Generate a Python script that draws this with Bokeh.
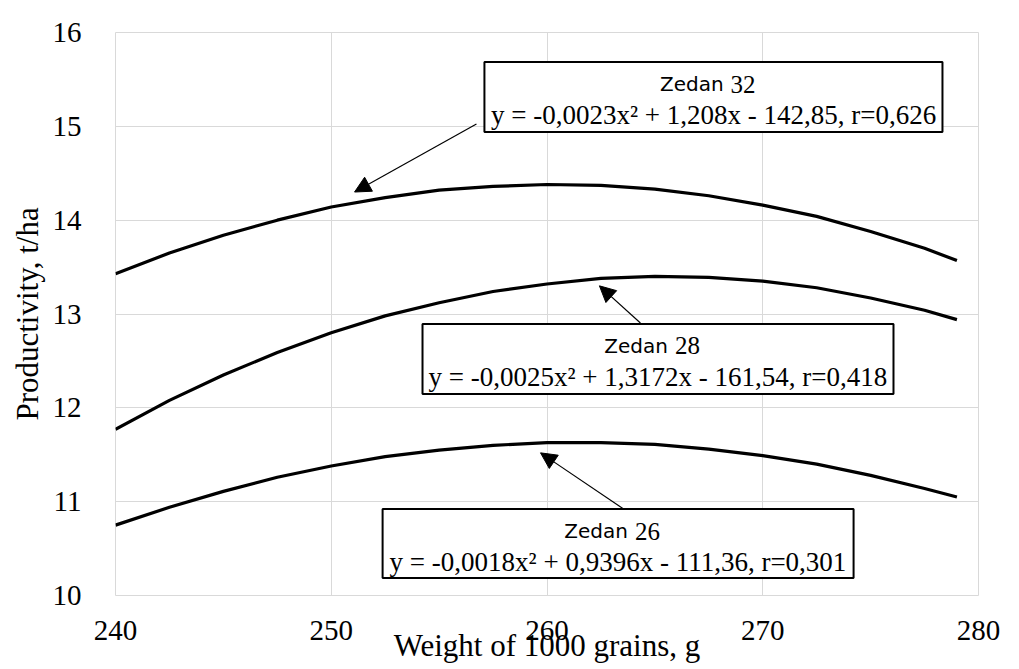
from bokeh.plotting import figure
from bokeh.models import Label, BoxAnnotation, Arrow, NormalHead, FixedTicker, Range1d
from bokeh.embed import file_html
from bokeh.resources import INLINE

# ---- data ----
weight = [240, 242.5, 245, 247.5, 250, 252.5, 255, 257.5, 260, 262.5,
          265, 267.5, 270, 272.5, 275, 277.5, 279]
zedan32 = [13.43, 13.65, 13.84, 14.00, 14.14, 14.24, 14.32, 14.36, 14.38, 14.37,
           14.33, 14.26, 14.16, 14.04, 13.88, 13.70, 13.57]
zedan28 = [11.77, 12.08, 12.35, 12.59, 12.80, 12.98, 13.12, 13.24, 13.32, 13.38,
           13.40, 13.39, 13.35, 13.28, 13.17, 13.04, 12.94]
zedan26 = [10.75, 10.94, 11.11, 11.26, 11.38, 11.48, 11.55, 11.60, 11.63, 11.63,
           11.61, 11.56, 11.49, 11.40, 11.28, 11.14, 11.05]

x_ticks = [240, 250, 260, 270, 280]
y_ticks = [10, 11, 12, 13, 14, 15, 16]

series_names = ["Zedan", "Zedan", "Zedan"]
series_nums = ["32", "28", "26"]
equations = [
    "y = -0,0023x\u00b2 + 1,208x - 142,85, r=0,626",
    "y = -0,0025x\u00b2 + 1,3172x - 161,54, r=0,418",
    "y = -0,0018x\u00b2 + 0,9396x - 111,36, r=0,301",
]

# callout boxes (data units)
box_left = [257.10, 254.23, 252.38]
box_right = [278.33, 276.06, 274.21]
box_top = [15.686, 12.893, 10.922]
box_bottom = [14.94, 12.147, 10.187]
label_x = [267.72, 265.14, 263.29]
name_y = [15.451, 12.659, 10.687]
eq_y = [15.121, 12.329, 10.357]

# arrows (data units)
arrow_x0 = [256.73, 264.33, 263.55]
arrow_y0 = [15.025, 12.904, 10.922]
arrow_x1 = [251.08, 262.43, 259.70]
arrow_y1 = [14.30, 13.30, 11.52]

SERIF = "Liberation Serif"
SANS = "DejaVu Sans"

p = figure(width=1019, height=669, output_backend="svg", toolbar_location=None,
           x_range=Range1d(240, 280), y_range=Range1d(10, 16),
           min_border_left=115, min_border_right=41,
           min_border_top=32, min_border_bottom=74)
p.background_fill_color = "white"
p.border_fill_color = "white"
p.outline_line_color = "#d9d9d9"
p.outline_line_width = 1

for ax in (p.xaxis[0], p.yaxis[0]):
    ax.axis_line_color = None
    ax.major_tick_line_color = None
    ax.minor_tick_line_color = None
    ax.major_label_text_font = SERIF
    ax.major_label_text_font_size = "29px"
    ax.major_label_text_color = "black"

p.xaxis.ticker = FixedTicker(ticks=x_ticks)
p.yaxis.ticker = FixedTicker(ticks=y_ticks)
p.xaxis.major_label_standoff = 19
p.yaxis.major_label_standoff = 28

p.yaxis.axis_label = "Productivity, t/ha"
p.yaxis.axis_label_text_font = SERIF
p.yaxis.axis_label_text_font_size = "31px"
p.yaxis.axis_label_text_font_style = "normal"
p.yaxis.axis_label_text_color = "black"
p.yaxis.axis_label_standoff = 5

p.xaxis.axis_label = "Weight of 1000 grains, g"
p.xaxis.axis_label_text_font = SERIF
p.xaxis.axis_label_text_font_size = "31px"
p.xaxis.axis_label_text_font_style = "normal"
p.xaxis.axis_label_text_color = "black"
p.xaxis.axis_label_standoff = -15

p.xgrid.ticker = FixedTicker(ticks=x_ticks)
p.ygrid.ticker = FixedTicker(ticks=y_ticks)
p.grid.grid_line_color = "#d9d9d9"
p.grid.grid_line_width = 1

for ys in (zedan32, zedan28, zedan26):
    p.line(weight, ys, line_color="black", line_width=3.2)

for i in range(3):
    p.add_layout(Arrow(x_start=arrow_x0[i], y_start=arrow_y0[i],
                       x_end=arrow_x1[i], y_end=arrow_y1[i],
                       line_color="black", line_width=1.2,
                       end=NormalHead(size=16, fill_color="black", line_color="black")))
    p.add_layout(BoxAnnotation(left=box_left[i], right=box_right[i],
                               bottom=box_bottom[i], top=box_top[i],
                               fill_color="white", fill_alpha=1.0,
                               line_color="black", line_width=2, line_alpha=1.0))
    p.add_layout(Label(x=label_x[i], y=name_y[i], text=series_names[i],
                       text_font=SANS, text_font_size="20px", text_color="black",
                       text_align="right", text_baseline="middle", x_offset=10))
    p.add_layout(Label(x=label_x[i], y=name_y[i], text=series_nums[i],
                       text_font=SERIF, text_font_size="25px", text_color="black",
                       text_align="left", text_baseline="middle", x_offset=17))
    p.add_layout(Label(x=label_x[i], y=eq_y[i], text=equations[i],
                       text_font=SERIF, text_font_size="27px", text_color="black",
                       text_align="center", text_baseline="middle"))

open("out.html", "w").write(file_html(p, INLINE))
